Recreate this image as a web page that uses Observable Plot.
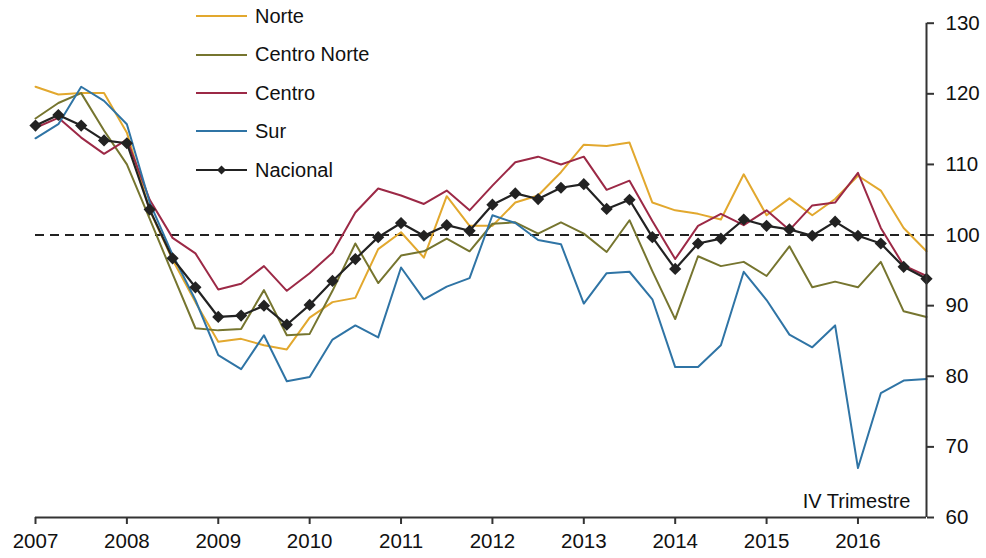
<!DOCTYPE html>
<html>
<head>
<meta charset="utf-8">
<script src="https://cdn.jsdelivr.net/npm/d3@7"></script>
<script src="https://cdn.jsdelivr.net/npm/@observablehq/plot@0.6"></script>
<style>
  html, body { margin: 0; padding: 0; background: #fff; }
  #wrap { position: relative; width: 986px; height: 558px; font-family: "Liberation Sans", Arial, sans-serif; }
  .leg { position: absolute; left: 196px; height: 24px; display: flex; align-items: center; font-size: 20px; color: #111; }
  .leg svg { margin-right: 8px; }
</style>
</head>
<body>
<div id="wrap"></div>
<script>
const years = [2007, 2008, 2009, 2010, 2011, 2012, 2013, 2014, 2015, 2016];
const yTicks = [60, 70, 80, 90, 100, 110, 120, 130];
const seriesNames = ["Norte", "Centro Norte", "Centro", "Sur", "Nacional"];
const seriesColors = ["#E2A82E", "#76752F", "#9C2946", "#2F74A5", "#222222"];
const noteText = "IV Trimestre";

const norte = [
  121.0, 119.9, 120.1, 120.1, 114.5, 103.5, 96.5, 90.5,
  84.9, 85.3, 84.4, 83.8, 88.3, 90.5, 91.1, 98.0,
  100.4, 96.8, 105.5, 101.3, 101.3, 104.6, 105.6, 108.9,
  112.8, 112.6, 113.1, 104.6, 103.5, 103.0, 102.2, 108.6,
  102.8, 105.2, 102.8, 105.1, 108.4, 106.3, 101.0, 97.7
];
const centroNorte = [
  116.5, 118.7, 120.1, 114.8, 110.0, 102.3, 94.5, 86.8,
  86.5, 86.7, 92.2, 85.8, 86.0, 92.1, 98.8, 93.2,
  97.1, 97.7, 99.5, 97.7, 101.6, 101.8, 100.2, 101.8,
  100.2, 97.6, 102.1, 94.9, 88.1, 97.0, 95.6, 96.2,
  94.2, 98.4, 92.6, 93.4, 92.6, 96.2, 89.2, 88.4
];
const centro = [
  115.2, 116.6, 113.8, 111.5, 113.5, 105.0, 99.6, 97.4,
  92.3, 93.1, 95.6, 92.1, 94.6, 97.5, 103.2, 106.6,
  105.6, 104.4, 106.3, 103.5, 107.0, 110.3, 111.1, 110.0,
  111.1, 106.4, 107.7, 102.0, 96.6, 101.3, 103.0, 101.4,
  103.5, 100.7, 104.2, 104.6, 108.8, 101.0, 95.7, 94.2
];
const sur = [
  113.7, 115.7, 121.0, 119.0, 115.7, 104.6, 97.2, 90.8,
  83.0, 81.0, 85.8, 79.3, 79.9, 85.2, 87.2, 85.5,
  95.4, 90.9, 92.7, 93.9, 102.8, 101.7, 99.3, 98.7,
  90.3, 94.6, 94.8, 90.9, 81.3, 81.3, 84.4, 94.8,
  90.8, 85.9, 84.1, 87.2, 67.0, 77.6, 79.4, 79.6
];
const nacional = [
  115.5, 117.0, 115.5, 113.4, 113.0, 103.6, 96.7, 92.6,
  88.4, 88.6, 90.0, 87.3, 90.1, 93.5, 96.6, 99.7,
  101.7, 99.9, 101.4, 100.6, 104.3, 105.9, 105.1, 106.7,
  107.2, 103.7, 105.0, 99.7, 95.2, 98.8, 99.5, 102.2,
  101.3, 100.8, 99.9, 101.9, 99.9, 98.8, 95.5, 93.8
];

// quarterly time positions: year + quarter/4
const quarters = [];
for (const y of years) for (let q = 0; q < 4; q++) quarters.push(y + q / 4);
const lastT = quarters[quarters.length - 1];

const allSeries = [norte, centroNorte, centro, sur, nacional];
const rows = [];
allSeries.forEach((vals, si) => vals.forEach((v, i) => rows.push({t: quarters[i], v, s: seriesNames[si]})));
const natRows = rows.filter(d => d.s === "Nacional");

const FONT = "Liberation Sans, Arial, sans-serif";

const chart = Plot.plot({
  width: 986,
  height: 558,
  marginLeft: 35,
  marginRight: 60,
  marginTop: 22.7,
  marginBottom: 41,
  style: {fontFamily: FONT, background: "#fff", color: "#111", overflow: "visible"},
  x: {domain: [years[0], lastT], axis: null},
  y: {domain: [yTicks[0], yTicks[yTicks.length - 1]], axis: null},
  color: {domain: seriesNames, range: seriesColors},
  marks: [
    Plot.ruleY([100], {stroke: "#222", strokeWidth: 2, strokeDasharray: "9,6"}),
    ...seriesNames.map((name, i) =>
      Plot.line(rows.filter(d => d.s === name), {x: "t", y: "v", stroke: seriesColors[i], strokeWidth: name === "Nacional" ? 2.2 : 2})
    ),
    Plot.dot(natRows, {x: "t", y: "v", symbol: "diamond2", r: 5.5, fill: "#222", stroke: "none"}),
    Plot.ruleY([yTicks[0]], {stroke: "#333", strokeWidth: 2}),
    Plot.ruleX([lastT], {stroke: "#333", strokeWidth: 2}),
    Plot.axisX({ticks: years, tickFormat: d => String(d), label: null, tickSize: 7, tickPadding: 9, fontSize: 20.5, stroke: "#333", strokeWidth: 2, fill: "#111"}),
    Plot.axisY({anchor: "right", ticks: yTicks, label: null, tickSize: 7, tickPadding: 12, fontSize: 20.5, stroke: "#333", strokeWidth: 2, fill: "#111"}),
    Plot.text([noteText], {frameAnchor: "bottom-right", dx: -16, dy: -10, lineAnchor: "bottom", textAnchor: "end", fontSize: 20, fill: "#111"})
  ]
});

const wrap = document.getElementById("wrap");
wrap.appendChild(chart);

const legendTops = [16, 54.5, 93, 131, 170];
seriesNames.forEach((name, i) => {
  const row = document.createElement("div");
  row.className = "leg";
  row.style.top = (legendTops[i] - 12) + "px";
  const col = seriesColors[i];
  const marker = name === "Nacional"
    ? `<path d="M25.5,7.5 L30,12 L25.5,16.5 L21,12 Z" fill="${col}"/>`
    : "";
  row.innerHTML = `<svg width="51" height="24"><line x1="0" x2="51" y1="12" y2="12" stroke="${col}" stroke-width="2"/>${marker}</svg><span>${name}</span>`;
  wrap.appendChild(row);
});
</script>
</body>
</html>
